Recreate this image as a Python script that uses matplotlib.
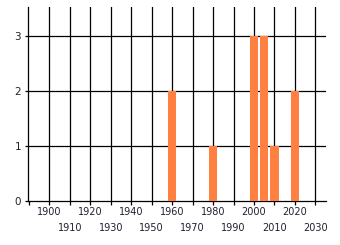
import matplotlib.pyplot as plt

# Data
years = [1960, 1980, 2000, 2005, 2010, 2020]
counts = [2, 1, 3, 3, 1, 2]
even_ticks = [1900, 1920, 1940, 1960, 1980, 2000, 2020]
odd_ticks = [1910, 1930, 1950, 1970, 1990, 2010, 2030]
y_ticks = [0, 1, 2, 3]

fig = plt.figure(figsize=(3.4, 2.45), dpi=100)
ax = fig.add_axes([0.0824, 0.1796, 0.8766, 0.7914])

ax.bar(years, counts, width=4, color="#ff8040", zorder=3)

ax.set_xlim(1889.6, 2035.2)
ax.set_ylim(0, 3.52)

# Grid lines
for x in even_ticks + odd_ticks:
    ax.axvline(x, color="black", linewidth=0.9, zorder=1)
for y in y_ticks[1:]:
    ax.axhline(y, color="black", linewidth=0.9, zorder=1)

# Alternating tick label rows
ax.set_xticks(even_ticks)
ax.set_xticklabels([str(t) for t in even_ticks])
ax.set_xticks([1890] + odd_ticks, minor=True)
ax.set_xticklabels([""] + [str(t) for t in odd_ticks], minor=True)
ax.tick_params(axis="x", which="major", length=3, width=0.9, pad=1.5,
               labelsize=7, labelcolor="#202030")
ax.tick_params(axis="x", which="minor", length=3, width=0.9, pad=13,
               labelsize=7, labelcolor="#202030")

ax.set_yticks(y_ticks)
ax.tick_params(axis="y", length=2, width=0.9, pad=3, labelsize=7.5,
               labelcolor="#202030")

for side in ["top", "right"]:
    ax.spines[side].set_visible(False)
for side in ["left", "bottom"]:
    ax.spines[side].set_linewidth(0.9)

fig.savefig("out.png", dpi=100)
